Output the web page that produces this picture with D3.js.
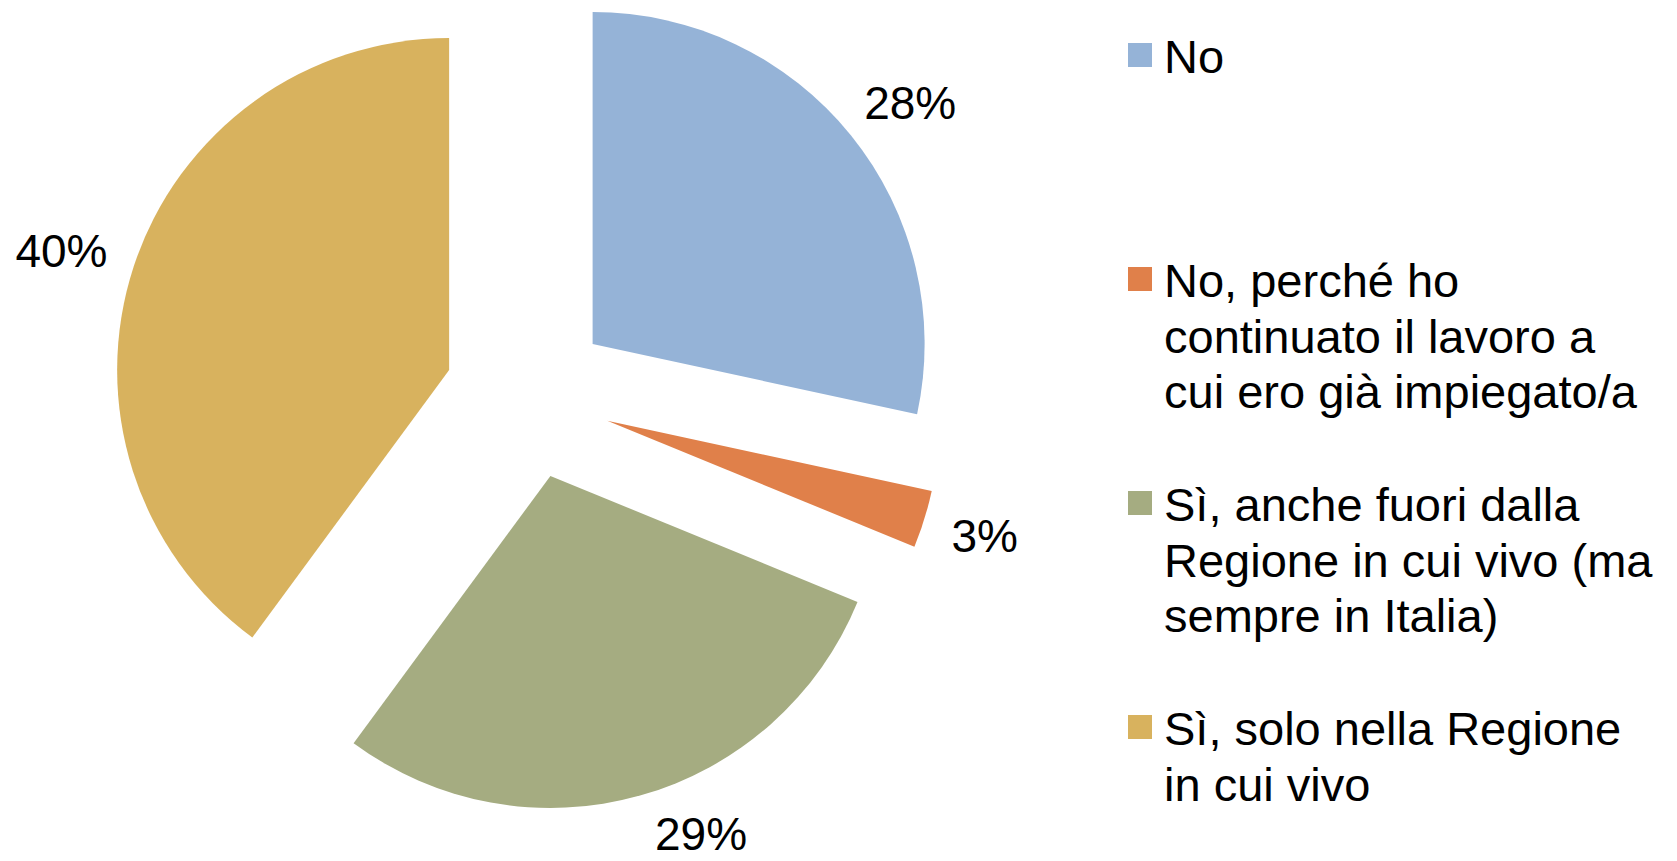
<!DOCTYPE html>
<html>
<head>
<meta charset="utf-8">
<script src="https://cdn.jsdelivr.net/npm/d3@7"></script>
<style>
  body { margin: 0; background: #fff; }
  svg { display: block; font-family: "Liberation Sans", Arial, sans-serif; }
</style>
</head>
<body>
<script>
// data
var categories = ["No",
                  "No, perché ho continuato il lavoro a cui ero già impiegato/a",
                  "Sì, anche fuori dalla Regione in cui vivo (ma sempre in Italia)",
                  "Sì, solo nella Regione in cui vivo"];
var values = [28.4, 2.8, 28.9, 39.9];
var colors = ["#95B3D7", "#E0804A", "#A5AC81", "#D8B25E"];

var w = 1677;
var h = 861;
var cx = 528, cy = 396;      // pie centre
var radius = 332;
var explode = 83;            // every slice pulled out
var labelGap = 30;
var labelSize = 46;
var legendSize = 47;

var svg = d3.select("body")
            .append("svg")
            .attr("width", w)
            .attr("height", h);

var pie = d3.pie().sort(null).value(function(d) { return d; });
var arcs = pie(values);
var total = d3.sum(values);

var arc = d3.arc().innerRadius(0).outerRadius(radius);

function apex(d) {
  var a = (d.startAngle + d.endAngle) / 2;
  return [cx + explode * Math.sin(a), cy - explode * Math.cos(a)];
}

svg.append("g")
  .selectAll("path")
  .data(arcs)
  .enter()
  .append("path")
  .attr("d", arc)
  .attr("transform", function(d) {
    var p = apex(d);
    return "translate(" + p[0] + "," + p[1] + ")";
  })
  .attr("fill", function(d, i) { return colors[i]; });

// percentage labels, outside end; slid round the pie if they would leave the chart
var fmt = d3.format(".0%");
svg.selectAll("text.lbl")
  .data(arcs)
  .enter()
  .append("text")
  .attr("class", "lbl")
  .text(function(d) { return fmt(d.value / total); })
  .attr("font-size", labelSize)
  .attr("text-anchor", "middle")
  .each(function(d) {
    var hw = this.getComputedTextLength() / 2;
    var hh = labelSize / 2;
    var p = apex(d);
    var a = (d.startAngle + d.endAngle) / 2;
    var x, y;
    for (var k = 0; k < 120; k++) {
      var dx = Math.sin(a), dy = -Math.cos(a);
      x = p[0] + (radius + labelGap) * dx + hw * dx;
      y = p[1] + (radius + labelGap) * dy + hh * dy;
      if (y + 27 > h) {
        a += (a < Math.PI ? -1 : 1) * Math.PI / 360;
      } else {
        break;
      }
    }
    d3.select(this).attr("x", x).attr("y", y + labelSize * 0.36);
  });

// legend
var legendX = 1128;
var legendBase = [73, 297, 521, 745];
var lineH = 55.5;
var wrapW = 496;

var leg = svg.selectAll("g.leg")
  .data(categories)
  .enter()
  .append("g")
  .attr("class", "leg");

leg.append("rect")
  .attr("x", legendX)
  .attr("y", function(d, i) { return legendBase[i] - 30; })
  .attr("width", 24)
  .attr("height", 24)
  .attr("fill", function(d, i) { return colors[i]; });

leg.append("text")
  .attr("font-size", legendSize)
  .attr("fill", "#000")
  .each(function(d, i) {
    var t = d3.select(this);
    var words = d.split(" ");
    var line = [];
    var n = 0;
    var ts = t.append("tspan").attr("x", legendX + 36).attr("y", legendBase[i]);
    words.forEach(function(wd) {
      line.push(wd);
      ts.text(line.join(" "));
      if (ts.node().getComputedTextLength() > wrapW && line.length > 1) {
        line.pop();
        ts.text(line.join(" "));
        line = [wd];
        n++;
        ts = t.append("tspan").attr("x", legendX + 36).attr("y", legendBase[i] + n * lineH).text(wd);
      }
    });
  });
</script>
</body>
</html>
